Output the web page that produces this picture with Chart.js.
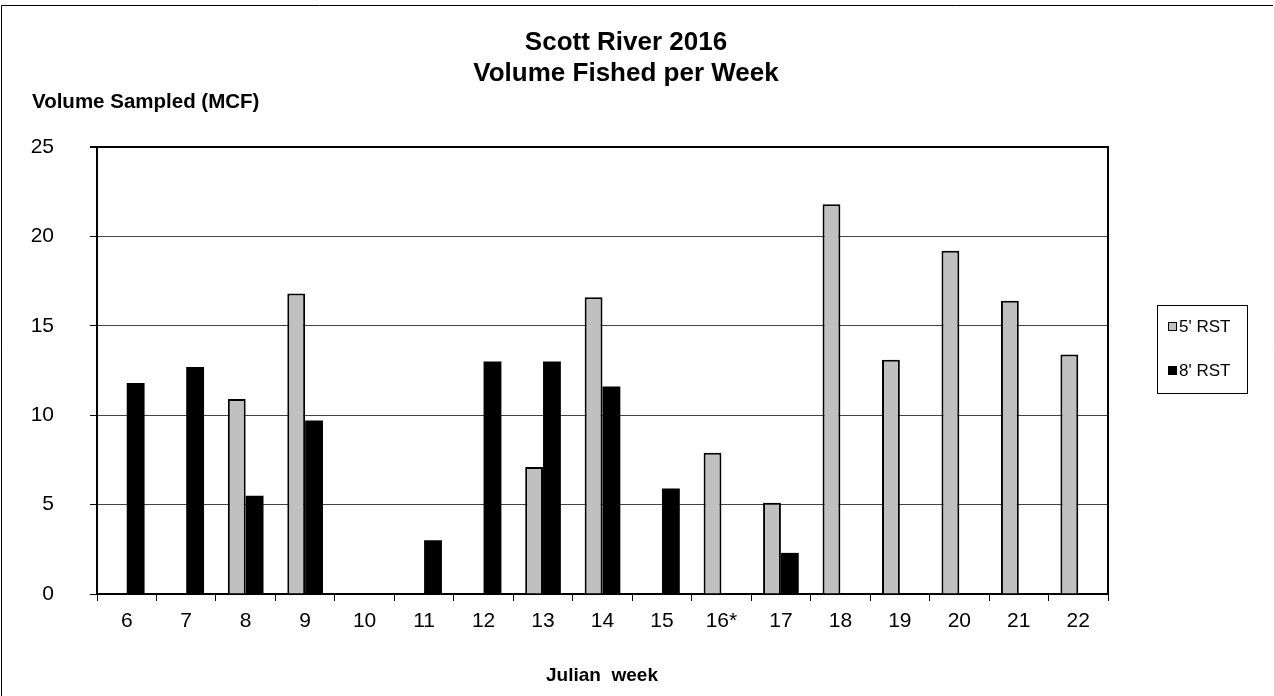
<!DOCTYPE html>
<html>
<head>
<meta charset="utf-8">
<title>Scott River 2016 - Volume Fished per Week</title>
<script src="https://cdn.jsdelivr.net/npm/chart.js@4.4.1/dist/chart.umd.min.js"></script>
<style>
  html, body { margin: 0; padding: 0; background: #fff; }
  #wrap { position: relative; width: 1275px; height: 696px; }
  canvas { display: block; }
</style>
</head>
<body>
<div id="wrap"><canvas id="chart" width="1275" height="696"></canvas></div>
<script>
// Julian weeks (16* marked in the source table)
const weeks = ['6', '7', '8', '9', '10', '11', '12', '13', '14', '15', '16*', '17', '18', '19', '20', '21', '22'];

// Volume sampled (MCF) per week for each rotary screw trap; null = not fished
const rst5 = [null, null, 10.9, 16.8, null, null, null, 7.1, 16.6, null, 7.9, 5.1, 21.8, 13.1, 19.2, 16.4, 13.4];
const rst8 = [11.8, 12.7, 5.5, 9.7, null, 3.0, 13.0, 13.0, 11.6, 5.9, null, 2.3, null, null, null, null, null];

const seriesNames = ["5' RST", "8' RST"];
const yTicks = [0, 5, 10, 15, 20, 25];

const titleLines = ['Scott River 2016', 'Volume Fished per Week'];
const yTitle = 'Volume Sampled (MCF)';
const xTitle = 'Julian  week';

const FONT = '"Liberation Sans", Arial, Helvetica, sans-serif';

// Titles, frame, plot-area box and legend drawn around the Chart.js bars
const decorations = {
  id: 'decorations',
  beforeDraw(chart) {
    const ctx = chart.ctx;
    ctx.save();
    ctx.fillStyle = '#fff';
    ctx.fillRect(0, 0, chart.width, chart.height);
    ctx.restore();
  },
  afterDraw(chart) {
    const ctx = chart.ctx;
    const a = chart.chartArea;
    ctx.save();

    // outer frame
    ctx.strokeStyle = '#000';
    ctx.lineWidth = 1;
    ctx.beginPath();
    ctx.moveTo(1.5, 696);
    ctx.lineTo(1.5, 5.5);
    ctx.lineTo(1273, 5.5);
    ctx.stroke();
    ctx.strokeStyle = '#d9d9d9';
    ctx.beginPath();
    ctx.moveTo(1274.5, 7);
    ctx.lineTo(1274.5, 696);
    ctx.stroke();

    // plot area box: top and right edges
    ctx.strokeStyle = '#000';
    ctx.lineWidth = 2;
    ctx.beginPath();
    ctx.moveTo(a.left, a.top);
    ctx.lineTo(a.right, a.top);
    ctx.lineTo(a.right, a.bottom);
    ctx.stroke();

    // chart title
    ctx.fillStyle = '#000';
    ctx.textAlign = 'center';
    ctx.textBaseline = 'middle';
    ctx.font = 'bold 26px ' + FONT;
    ctx.fillText(titleLines[0], 626, 43);
    ctx.fillText(titleLines[1], 626, 74);

    // axis titles
    ctx.font = 'bold 20.5px ' + FONT;
    ctx.textAlign = 'left';
    ctx.fillText(yTitle, 32, 102);
    ctx.textAlign = 'center';
    ctx.font = 'bold 19px ' + FONT;
    ctx.fillText(xTitle, 602, 676);

    // legend
    const lx = 1157.5, ly = 305.5, lw = 90, lh = 88;
    ctx.lineWidth = 1;
    ctx.strokeStyle = '#000';
    ctx.strokeRect(lx, ly, lw, lh);
    ctx.font = '17px ' + FONT;
    ctx.textAlign = 'left';
    chart.data.datasets.forEach((ds, i) => {
      const cy = 326 + i * 44;
      ctx.fillStyle = ds.backgroundColor;
      ctx.fillRect(1168, cy - 4, 9, 9);
      ctx.strokeStyle = '#000';
      ctx.lineWidth = 1;
      ctx.strokeRect(1168.5, cy - 3.5, 8, 8);
      ctx.fillStyle = '#000';
      ctx.fillText(ds.label, 1179, cy + 1);
    });

    ctx.restore();
  }
};

new Chart(document.getElementById('chart'), {
  type: 'bar',
  data: {
    labels: weeks,
    datasets: [
      {
        label: seriesNames[0],
        data: rst5,
        backgroundColor: '#c0c0c0',
        borderColor: '#000',
        borderWidth: 2,
        borderSkipped: 'start'
      },
      {
        label: seriesNames[1],
        data: rst8,
        backgroundColor: '#000',
        borderColor: '#000',
        borderWidth: 0
      }
    ]
  },
  options: {
    responsive: false,
    animation: false,
    devicePixelRatio: 1,
    layout: { padding: { top: 147, right: 167, bottom: 0, left: 0 } },
    datasets: {
      bar: { categoryPercentage: 0.6, barPercentage: 1.0 }
    },
    plugins: {
      legend: { display: false },
      title: { display: false },
      tooltip: { enabled: false }
    },
    scales: {
      x: {
        type: 'category',
        offset: true,
        afterFit(scale) { scale.height = 102; },
        grid: {
          offset: true,
          drawOnChartArea: false,
          drawTicks: true,
          tickLength: 7,
          color: '#000',
          lineWidth: 1
        },
        border: { display: true, color: '#000', width: 2 },
        ticks: {
          color: '#000',
          font: { family: FONT, size: 21 },
          padding: 8,
          maxRotation: 0,
          autoSkip: false
        }
      },
      y: {
        min: 0,
        max: 25,
        afterFit(scale) { scale.width = 97; },
        afterBuildTicks(scale) { scale.ticks = yTicks.map(v => ({ value: v })); },
        grid: {
          drawTicks: true,
          tickLength: 7,
          color: ctx => (ctx.tick && ctx.tick.value === 25) ? '#000' : '#444',
          lineWidth: ctx => (ctx.tick && ctx.tick.value === 25) ? 2 : 1,
          tickColor: '#000'
        },
        border: { display: true, color: '#000', width: 2 },
        ticks: {
          color: '#000',
          font: { family: FONT, size: 21 },
          padding: 36
        }
      }
    }
  },
  plugins: [decorations]
});
</script>
</body>
</html>
